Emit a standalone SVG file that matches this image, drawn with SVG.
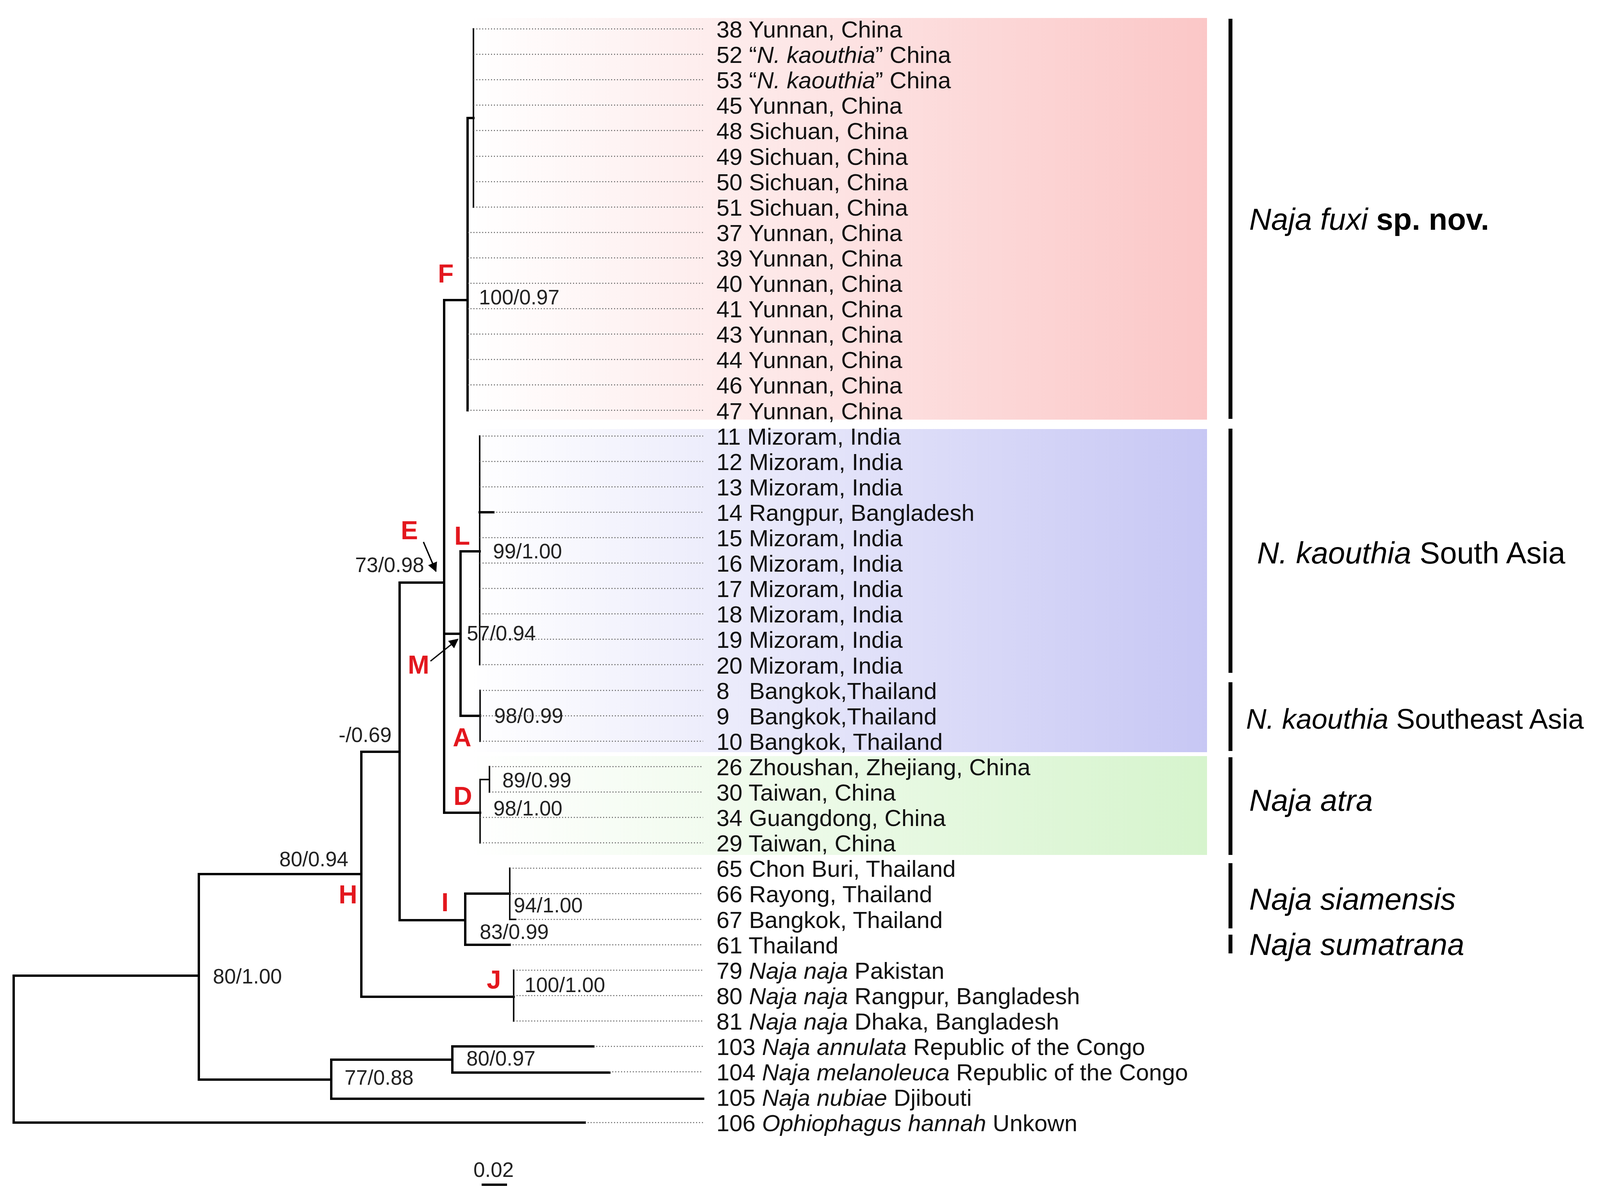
<svg xmlns="http://www.w3.org/2000/svg" width="4184" height="3066" viewBox="0 0 4184 3066">
<defs>
<linearGradient id="gPink" x1="0" y1="0" x2="1" y2="0"><stop offset="0" stop-color="#ffffff"/><stop offset="1" stop-color="#fbc7c7"/></linearGradient>
<linearGradient id="gBlue" x1="0" y1="0" x2="1" y2="0"><stop offset="0" stop-color="#ffffff"/><stop offset="1" stop-color="#c7c7f4"/></linearGradient>
<linearGradient id="gGreen" x1="0" y1="0" x2="1" y2="0"><stop offset="0" stop-color="#ffffff"/><stop offset="1" stop-color="#d6f4cd"/></linearGradient>
<marker id="arr" viewBox="0 0 10 10" refX="9" refY="5" markerWidth="7" markerHeight="7" orient="auto" markerUnits="strokeWidth"><path d="M0,0 L10,5 L0,10 z" fill="#000"/></marker>
<style>
.br{fill:none;stroke:#000;stroke-width:6;stroke-linecap:square}
.bt{fill:none;stroke:#111;stroke-width:4;stroke-linecap:square}
.dot{fill:none;stroke:#555;stroke-width:2.5;stroke-dasharray:2.5 5}
.lf{font-family:"Liberation Sans",Arial,sans-serif;font-size:60px;fill:#111}
.sp{font-family:"Liberation Sans",Arial,sans-serif;font-size:53px;fill:#222}
.rd{font-family:"Liberation Sans",Arial,sans-serif;font-size:66px;font-weight:bold;fill:#e3171e}
.cl{font-family:"Liberation Sans",Arial,sans-serif;font-size:78px;fill:#000}
.cls{font-family:"Liberation Sans",Arial,sans-serif;font-size:72px;fill:#000}
.bar{stroke:#000;stroke-width:10}
.it{font-style:italic}
</style>
</defs>
<rect width="4184" height="3066" fill="#fff"/>
<g id="bands">
<rect x="1200" y="46" width="1890" height="1028" fill="url(#gPink)"/>
<rect x="1200" y="1098" width="1890" height="827" fill="url(#gBlue)"/>
<rect x="1200" y="1935" width="1890" height="253" fill="url(#gGreen)"/>
</g>
<g id="connectors">
<path class="br" d="M35 2497 V2873 M35 2497 H509 M35 2873 H1497"/>
<path class="br" d="M509 2237 V2763 M509 2237 H925 M509 2763 H848"/>
<path class="br" d="M925 1924 V2551 M925 1924 H1023 M925 2551 H1315"/>
<path class="bt" d="M1315 2483 V2613"/>
<path class="br" d="M1023 1491 V2355 M1023 1491 H1137 M1023 2355 H1191"/>
<path class="br" d="M1191 2287 V2418 M1191 2287 H1305 M1191 2418 H1305"/>
<path class="bt" d="M1305 2222 V2353 H1320"/>
<path class="br" d="M1137 768 V2080 M1137 768 H1197 M1137 1622 H1179 M1137 2080 H1229"/>
<path class="br" d="M1197 302 V1050 M1197 302 H1212"/>
<path class="bt" d="M1212 74 V530"/>
<path class="br" d="M1179 1411 V1832 M1179 1411 H1228 M1179 1832 H1229"/>
<path class="bt" d="M1228 1116 V1701"/>
<path class="br" d="M1228 1311 H1263"/>
<path class="bt" d="M1229 1767 V1897"/>
<path class="bt" d="M1229 1995 V2157 M1229 1995 H1253 M1253 1962 V2027"/>
<path class="br" d="M848 2712 V2812 M848 2712 H1158 M848 2812 H1800 M1158 2678 V2745 M1158 2678 H1519 M1158 2745 H1560"/>
<path class="dot" d="M1212 74 H1800 M1212 139 H1800 M1212 204 H1800 M1212 269 H1800 M1212 334 H1800 M1212 400 H1800 M1212 465 H1800 M1212 530 H1800
M1197 595 H1800 M1197 660 H1800 M1197 725 H1800 M1197 790 H1800 M1197 855 H1800 M1197 920 H1800 M1197 985 H1800 M1197 1050 H1800
M1228 1116 H1800 M1228 1181 H1800 M1228 1246 H1800 M1263 1311 H1800 M1228 1376 H1800 M1228 1441 H1800 M1228 1506 H1800 M1228 1571 H1800 M1228 1636 H1800 M1228 1701 H1800
M1229 1767 H1800 M1229 1832 H1800 M1229 1897 H1800
M1253 1962 H1800 M1253 2027 H1800 M1229 2092 H1800 M1229 2157 H1800
M1305 2222 H1800 M1305 2287 H1800 M1320 2353 H1800 M1305 2418 H1800
M1315 2483 H1800 M1315 2548 H1800 M1315 2613 H1800
M1519 2678 H1800 M1560 2743 H1800 M1497 2873 H1800"/>
<line x1="1084" y1="1387" x2="1116" y2="1462" stroke="#000" stroke-width="3.5" marker-end="url(#arr)"/>
<line x1="1102" y1="1692" x2="1172" y2="1636" stroke="#000" stroke-width="3.5" marker-end="url(#arr)"/>
</g>
<g id="support">
<text class="sp" x="1226" y="779">100/0.97</text>
<text class="sp" x="909" y="1464">73/0.98</text>
<text class="sp" x="1262" y="1429">99/1.00</text>
<text class="sp" x="1195" y="1639">57/0.94</text>
<text class="sp" x="1265" y="1850">98/0.99</text>
<text class="sp" x="1286" y="2015">89/0.99</text>
<text class="sp" x="1263" y="2087">98/1.00</text>
<text class="sp" x="867" y="1899">-/0.69</text>
<text class="sp" x="715" y="2217">80/0.94</text>
<text class="sp" x="1315" y="2335">94/1.00</text>
<text class="sp" x="1228" y="2403">83/0.99</text>
<text class="sp" x="1343" y="2539">100/1.00</text>
<text class="sp" x="545" y="2517">80/1.00</text>
<text class="sp" x="1194" y="2727">80/0.97</text>
<text class="sp" x="882" y="2776">77/0.88</text>
</g>
<g id="node-letters">
<text class="rd" x="1026" y="1380">E</text>
<text class="rd" x="1121" y="723">F</text>
<text class="rd" x="1163" y="1394">L</text>
<text class="rd" x="1044" y="1724">M</text>
<text class="rd" x="1159" y="1910">A</text>
<text class="rd" x="1161" y="2060">D</text>
<text class="rd" x="867" y="2312">H</text>
<text class="rd" x="1130" y="2332">I</text>
<text class="rd" x="1246" y="2530">J</text>
</g>
<g id="leaves">
<text class="lf" x="1834" y="96">38 Yunnan, China</text>
<text class="lf" x="1834" y="161">52 “<tspan class="it">N. kaouthia</tspan>” China</text>
<text class="lf" x="1834" y="226">53 “<tspan class="it">N. kaouthia</tspan>” China</text>
<text class="lf" x="1834" y="291">45 Yunnan, China</text>
<text class="lf" x="1834" y="356">48 Sichuan, China</text>
<text class="lf" x="1834" y="422">49 Sichuan, China</text>
<text class="lf" x="1834" y="487">50 Sichuan, China</text>
<text class="lf" x="1834" y="552">51 Sichuan, China</text>
<text class="lf" x="1834" y="617">37 Yunnan, China</text>
<text class="lf" x="1834" y="682">39 Yunnan, China</text>
<text class="lf" x="1834" y="747">40 Yunnan, China</text>
<text class="lf" x="1834" y="812">41 Yunnan, China</text>
<text class="lf" x="1834" y="877">43 Yunnan, China</text>
<text class="lf" x="1834" y="942">44 Yunnan, China</text>
<text class="lf" x="1834" y="1007">46 Yunnan, China</text>
<text class="lf" x="1834" y="1073">47 Yunnan, China</text>
<text class="lf" x="1834" y="1138">11 Mizoram, India</text>
<text class="lf" x="1834" y="1203">12 Mizoram, India</text>
<text class="lf" x="1834" y="1268">13 Mizoram, India</text>
<text class="lf" x="1834" y="1333">14 Rangpur, Bangladesh</text>
<text class="lf" x="1834" y="1398">15 Mizoram, India</text>
<text class="lf" x="1834" y="1463">16 Mizoram, India</text>
<text class="lf" x="1834" y="1528">17 Mizoram, India</text>
<text class="lf" x="1834" y="1593">18 Mizoram, India</text>
<text class="lf" x="1834" y="1658">19 Mizoram, India</text>
<text class="lf" x="1834" y="1724">20 Mizoram, India</text>
<text class="lf" x="1834" y="1789">8<tspan x="1918">Bangkok,Thailand</tspan></text>
<text class="lf" x="1834" y="1854">9<tspan x="1918">Bangkok,Thailand</tspan></text>
<text class="lf" x="1834" y="1919">10 Bangkok, Thailand</text>
<text class="lf" x="1834" y="1984">26 Zhoushan, Zhejiang, China</text>
<text class="lf" x="1834" y="2049">30 Taiwan, China</text>
<text class="lf" x="1834" y="2114">34 Guangdong, China</text>
<text class="lf" x="1834" y="2179">29 Taiwan, China</text>
<text class="lf" x="1834" y="2244">65 Chon Buri, Thailand</text>
<text class="lf" x="1834" y="2309">66 Rayong, Thailand</text>
<text class="lf" x="1834" y="2375">67 Bangkok, Thailand</text>
<text class="lf" x="1834" y="2440">61 Thailand</text>
<text class="lf" x="1834" y="2505">79 <tspan class="it">Naja naja</tspan> Pakistan</text>
<text class="lf" x="1834" y="2570">80 <tspan class="it">Naja naja</tspan> Rangpur, Bangladesh</text>
<text class="lf" x="1834" y="2635">81 <tspan class="it">Naja naja</tspan> Dhaka, Bangladesh</text>
<text class="lf" x="1834" y="2700">103 <tspan class="it">Naja annulata</tspan> Republic of the Congo</text>
<text class="lf" x="1834" y="2765">104 <tspan class="it">Naja melanoleuca</tspan> Republic of the Congo</text>
<text class="lf" x="1834" y="2830">105 <tspan class="it">Naja nubiae</tspan> Djibouti</text>
<text class="lf" x="1834" y="2895">106 <tspan class="it">Ophiophagus hannah</tspan> Unkown</text>
</g>
<g id="clades">
<line class="bar" x1="3150" y1="48" x2="3150" y2="1072"/>
<line class="bar" x1="3150" y1="1097" x2="3150" y2="1722"/>
<line class="bar" x1="3150" y1="1746" x2="3150" y2="1922"/>
<line class="bar" x1="3150" y1="1938" x2="3150" y2="2188"/>
<line class="bar" x1="3150" y1="2209" x2="3150" y2="2376"/>
<line class="bar" x1="3150" y1="2392" x2="3150" y2="2440"/>
<text class="cl" x="3198" y="588"><tspan class="it">Naja fuxi</tspan> <tspan font-weight="bold">sp. nov.</tspan></text>
<text class="cl" x="3218" y="1442"><tspan class="it">N. kaouthia</tspan> South Asia</text>
<text class="cls" x="3190" y="1865"><tspan class="it">N. kaouthia</tspan> Southeast Asia</text>
<text class="cl it" x="3198" y="2075">Naja atra</text>
<text class="cl it" x="3198" y="2328">Naja siamensis</text>
<text class="cl it" x="3198" y="2444">Naja sumatrana</text>
</g>
<g id="scale">
<text class="sp" x="1212" y="3012">0.02</text>
<path class="br" d="M1236 3032 H1295"/>
</g>
</svg>
